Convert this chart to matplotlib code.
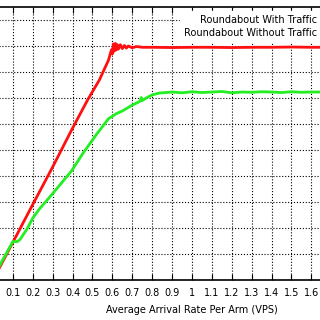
import numpy as np
import matplotlib
matplotlib.use("Agg")
import matplotlib.pyplot as plt

red_x = [0.0, 0.1, 0.185, 0.3, 0.395, 0.475, 0.535, 0.58, 0.595, 0.6, 0.605, 0.61,
         0.615, 0.62, 0.625, 0.63, 0.64, 0.65, 0.66, 0.67, 0.68, 0.7, 0.72, 0.75,
         0.8, 0.9, 1.0, 1.1, 1.2, 1.3, 1.4, 1.5, 1.6, 1.7, 1.8, 1.9, 2.0]
red_y = [0.0, 1.45, 2.69, 4.35, 5.77, 6.92, 7.7, 8.45, 8.85, 8.7, 9.08, 8.8,
         9.1, 8.85, 9.05, 8.88, 9.05, 8.9, 9.02, 8.92, 9.0, 8.93, 8.98, 8.95,
         8.95, 8.94, 8.95, 8.95, 8.94, 8.95, 8.95, 8.96, 8.95, 8.95, 8.94, 8.95, 8.95]

green_x = [0.0, 0.035, 0.1, 0.12, 0.135, 0.17, 0.2, 0.235, 0.275, 0.33, 0.395, 0.45,
           0.52, 0.55, 0.58, 0.6, 0.62, 0.65, 0.7, 0.72, 0.74, 0.745, 0.75, 0.77,
           0.8, 0.835, 0.9, 0.95, 1.0, 1.05, 1.1, 1.15, 1.2, 1.25, 1.3, 1.35, 1.4,
           1.45, 1.5, 1.55, 1.6, 1.7, 1.8, 1.9, 2.0]
green_y = [0.0, 0.58, 1.48, 1.47, 1.55, 1.95, 2.38, 2.75, 3.1, 3.6, 4.2, 4.85,
           5.6, 5.9, 6.2, 6.3, 6.4, 6.5, 6.73, 6.8, 6.88, 7.02, 6.9, 7.0,
           7.12, 7.19, 7.23, 7.2, 7.24, 7.21, 7.23, 7.25, 7.2, 7.23, 7.22, 7.24, 7.23,
           7.21, 7.24, 7.22, 7.23, 7.23, 7.22, 7.24, 7.23]

# ticks past 1.6 fall outside the picture, so they get no label
xtick_labels = ['', '0.1', '0.2', '0.3', '0.4', '0.5', '0.6', '0.7', '0.8', '0.9', '1',
                '1.1', '1.2', '1.3', '1.4', '1.5', '1.6', '', '', '', '']

fig = plt.figure(figsize=(3.2, 3.2), dpi=100)
# axes run past the edges of the picture, only the middle part is seen
ax = fig.add_axes([-7/320, 40/320, 398/320, 273/320])

ax.plot(red_x, red_y, color='#ff1010', lw=2.0, label='Roundabout With Traffic')
ax.plot(green_x, green_y, color='#22ee22', lw=2.0, label='Roundabout Without Traffic')

ax.set_xlim(0, 2.0)
ax.set_ylim(0, 10.5)
ax.set_xticks(np.arange(0, 2.01, 0.1))
ax.set_xticklabels(xtick_labels)
ax.set_yticks(np.arange(0, 11, 1))
ax.set_yticklabels([])
ax.grid(True, color='black', linestyle=':', lw=0.8)
ax.tick_params(direction='in', top=True, right=True, labelsize=7, length=4, pad=6)
for s in ax.spines.values():
    s.set_linewidth(1.2)

ax.set_xlabel('Average Arrival Rate Per Arm (VPS)', fontsize=7, labelpad=5)

leg = ax.legend(loc='upper right', bbox_to_anchor=((353+7)/398, (273+1)/273),
                markerfirst=False, fontsize=7, frameon=True, framealpha=1,
                edgecolor='white', fancybox=False, labelspacing=0.35, borderpad=0.4)

fig.savefig('out.png', dpi=100)
